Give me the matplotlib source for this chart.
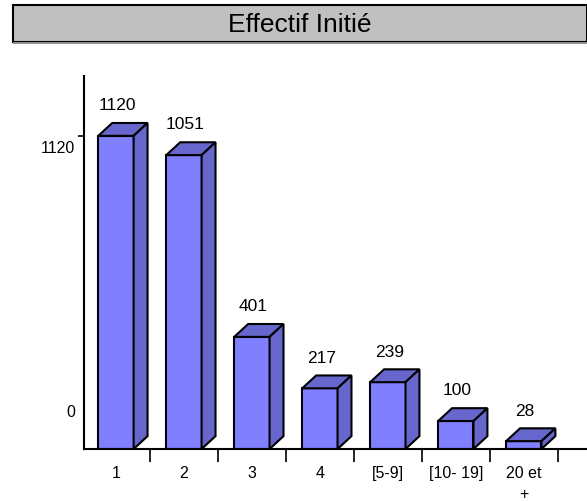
import matplotlib.pyplot as plt
from matplotlib.patches import Polygon, Rectangle

categories = ['1', '2', '3', '4', '[5-9]', '[10- 19]', '20 et\n+']
effectif = [1120, 1051, 401, 217, 239, 100, 28]
ytick_labels = ['0', '1120']

plt.rcParams['font.family'] = ['Liberation Sans', 'DejaVu Sans']

W, H = 587, 501
fig = plt.figure(figsize=(W / 100, H / 100), dpi=100)

# title box
fig.patches.append(Rectangle((13 / W, 1 - 42 / H), (W - 13) / W, 37 / H,
                             transform=fig.transFigure, facecolor='#C0C0C0',
                             edgecolor='black', linewidth=1.5))
fig.patches.append(Rectangle((13 / W, 1 - 44 / H), (W - 13) / W, 2 / H,
                             transform=fig.transFigure, facecolor='#909090',
                             edgecolor='none'))
fig.text(300 / W, 1 - 25 / H, 'Effectif Initié', ha='center', va='center',
         fontsize=19)

ax = fig.add_axes([84 / W, 52 / H, (W - 84) / W, (449 - 76) / H])
ax.set_xlim(-0.47, 6.93)
ax.set_ylim(0, 1334)

half = 0.26      # half width of bar front
dx = 0.205       # depth along x (data units)
dy = 46          # depth along y (data units)
front = '#8080FF'
shade = '#6666CC'

xs = list(range(len(effectif)))
ax.bar(xs, effectif, width=2 * half, color=front, edgecolor='black',
       linewidth=1.5, zorder=2)
for x, h in zip(xs, effectif):
    x0, x1 = x - half, x + half
    top = [(x0, h), (x1, h), (x1 + dx, h + dy), (x0 + dx, h + dy)]
    side = [(x1, 0), (x1 + dx, dy), (x1 + dx, h + dy), (x1, h)]
    for pts in (top, side):
        ax.add_patch(Polygon(pts, closed=True, facecolor=shade,
                             edgecolor='black', linewidth=1.5, zorder=2))
    ax.text(x + 0.02, h + dy + 35, str(h), ha='center', va='bottom',
            fontsize=12.5)

# category labels between boundary ticks
ax.set_xticks([x + 0.5 for x in xs])
ax.set_xticklabels([])
ax.tick_params(axis='x', direction='out', length=9, width=1.2)
for x, lab in zip(xs, categories):
    ax.text(x, -60, lab, ha='center', va='top', fontsize=11.5,
            linespacing=1.5)

ax.set_yticks([1120])
ax.set_yticklabels([])
ax.tick_params(axis='y', direction='out', length=4, width=1.2)
ax.text(-0.6, 1075, ytick_labels[1], ha='right', va='center', fontsize=11.5)
ax.text(-0.6, 129, ytick_labels[0], ha='right', va='center', fontsize=11.5)

for s in ('top', 'right'):
    ax.spines[s].set_visible(False)
for s in ('left', 'bottom'):
    ax.spines[s].set_linewidth(1.5)
ax.patch.set_alpha(0)

fig.savefig('out.png', dpi=100)
